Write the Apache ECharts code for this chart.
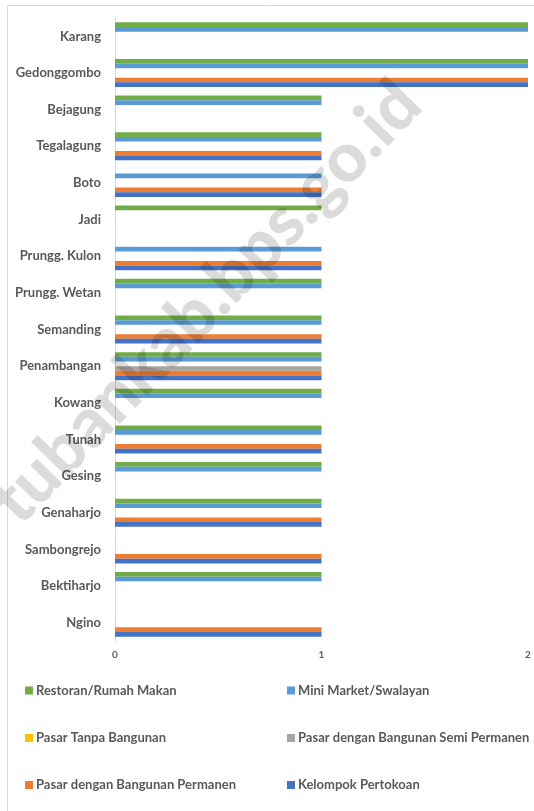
<!DOCTYPE html>
<html>
<head>
<meta charset="utf-8">
<script src="https://cdn.jsdelivr.net/npm/echarts@6/dist/echarts.min.js"></script>
<style>
html,body{margin:0;padding:0;background:#fff;}
#chart{width:534px;height:811px;}
</style>
</head>
<body>
<div id="chart"></div>
<script>
const categories = ['Karang','Gedonggombo','Bejagung','Tegalagung','Boto','Jadi','Prungg. Kulon','Prungg. Wetan','Semanding','Penambangan','Kowang','Tunah','Gesing','Genaharjo','Sambongrejo','Bektiharjo','Ngino'];
const seriesNames = ['Restoran/Rumah Makan','Mini Market/Swalayan','Pasar Tanpa Bangunan','Pasar dengan Bangunan Semi Permanen','Pasar dengan Bangunan Permanen','Kelompok Pertokoan'];
const restoran      = [2,2,1,1,0,1,0,1,1,1,1,1,1,1,0,1,0];
const miniMarket    = [2,2,1,1,1,0,1,1,1,1,1,1,1,1,0,1,0];
const pasarTanpa    = [0,0,0,0,0,0,0,0,0,0,0,0,0,0,0,0,0];
const pasarSemi     = [0,0,0,0,0,0,0,0,0,1,0,0,0,0,0,0,0];
const pasarPermanen = [0,2,0,1,1,0,1,0,1,1,0,1,0,1,1,0,1];
const pertokoan     = [0,2,0,1,1,0,1,0,1,1,0,1,0,1,1,0,1];
const xTicks = [0,1,2];

const seriesData = [restoran, miniMarket, pasarTanpa, pasarSemi, pasarPermanen, pertokoan];
const colors = ['#70AD47','#5B9BD5','#FFC000','#A5A5A5','#ED7D31','#4472C4'];
const FONT = 'Lato, "Open Sans", sans-serif';

const legendPos = [
  {left:25, top:682.5},{left:287, top:682.5},
  {left:25, top:730},{left:287, top:730},
  {left:25, top:777},{left:287, top:777}
];

const chart = echarts.init(document.getElementById('chart'), null, {renderer:'canvas'});
chart.setOption({
  animation:false,
  color: colors,
  textStyle:{fontFamily:FONT},
  grid:{left:115, right:6, top:18, height:623, containLabel:false},
  xAxis:{
    type:'value', min:xTicks[0], max:xTicks[xTicks.length-1], interval:1,
    axisLine:{show:false}, axisTick:{show:false}, splitLine:{show:false},
    axisLabel:{color:'#595959', fontSize:10, fontWeight:'bold', margin:9, fontFamily:FONT}
  },
  yAxis:{
    type:'category', data:categories, inverse:true,
    axisLine:{show:true, lineStyle:{color:'#d9d9d9', width:1}},
    axisTick:{show:false}, splitLine:{show:false},
    axisLabel:{color:'#595959', fontSize:13, fontWeight:'bold', margin:14, fontFamily:FONT}
  },
  legend: seriesNames.map((n,i)=>({
    data:[n], left:legendPos[i].left, top:legendPos[i].top, padding:0,
    icon:'rect', itemWidth:8, itemHeight:8, selectedMode:false,
    textStyle:{color:'#595959', fontSize:13, fontWeight:'bold', fontFamily:FONT, lineHeight:16, padding:[0,0,0,-2]}
  })),
  series: seriesNames.map((n,i)=>({
    name:n, type:'bar', data:seriesData[i],
    barGap:'0%', barCategoryGap:'23.5%',
    itemStyle:{color:colors[i]}
  })),
  graphic:[
    {type:'rect', shape:{x:7.5, y:5.5, width:700, height:900}, style:{fill:'none', stroke:'#d9d9d9', lineWidth:1}, silent:true, z:-1},
    {type:'text', x:4, y:512, rotation:46*Math.PI/180, z:100, silent:true,
     style:{text:'tubankab.bps.go.id', fill:'rgba(0,0,0,0.14)', font:'900 69px '+FONT, textAlign:'left', textVerticalAlign:'middle'}}
  ]
});
</script>
</body>
</html>
